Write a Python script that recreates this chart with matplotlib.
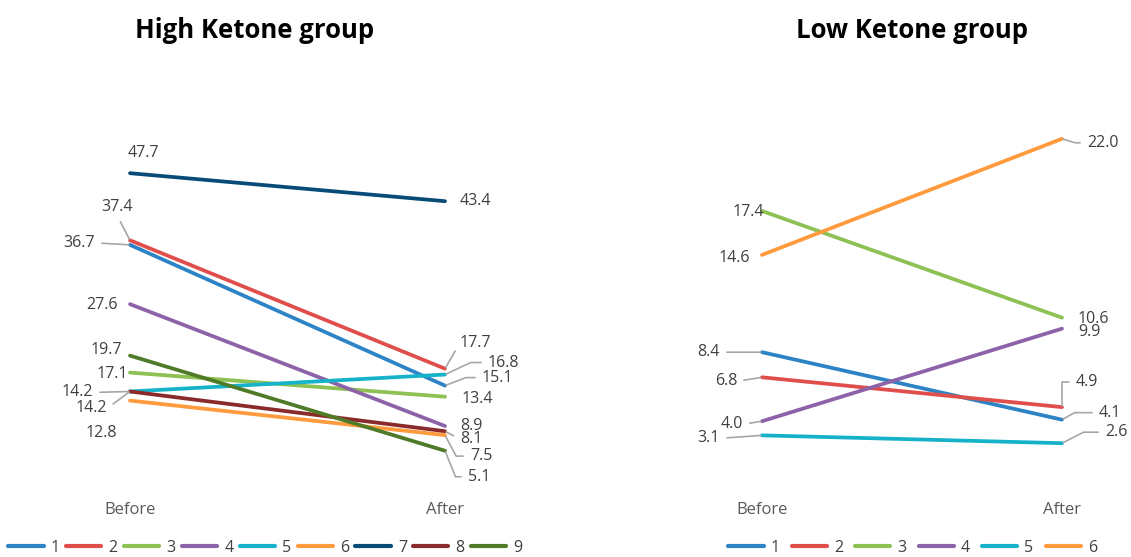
import matplotlib
matplotlib.use("Agg")
import matplotlib.pyplot as plt
from matplotlib.lines import Line2D

plt.rcParams['font.family'] = ['Open Sans', 'DejaVu Sans']

# data
categories = ['Before', 'After']

high_names = ['1', '2', '3', '4', '5', '6', '7', '8', '9']
high_before = [36.7, 37.4, 17.1, 27.6, 14.2, 12.8, 47.7, 14.2, 19.7]
high_after = [15.1, 17.7, 13.4, 8.9, 16.8, 7.5, 43.4, 8.1, 5.1]

low_names = ['1', '2', '3', '4', '5', '6']
low_before = [8.4, 6.8, 17.4, 4.0, 3.1, 14.6]
low_after = [4.1, 4.9, 10.6, 9.9, 2.6, 22.0]

colors = ['#2c83c5', '#e04e4b', '#8dc153', '#8c62a8', '#16b2c9',
          '#ff9a3d', '#084b77', '#8b2a2a', '#4f7a28']

TEXT = '#404040'
LEAD = '#a6a6a6'

# label layout: (dx px, dy px, ha, leader) ; leader None = no line,
# 's' = straight, number = elbow angle at the point
high_left_lbl = [(-35, 2, 'right', 's'), (-13, 33, 'center', 's'),
                 (-2, -1, 'right', None), (-12, -1, 'right', None),
                 (-37, -1, 'right', 's'), (-13, -32, 'right', None),
                 (-2, 20, 'left', None), (-23, -17, 'right', 's'),
                 (-8, 6, 'right', None)]
high_right_lbl = [(37, 8, 'left', 21), (15, 26, 'left', 's'),
                  (17, -2, 'left', None), (15, 0, 'left', None),
                  (43, 12, 'left', 25), (25, -21, 'left', -62),
                  (15, -8, 'left', None), (15, -8, 'left', 's'),
                  (23, -26, 'left', -68)]
high_right_lbl[6] = (15, 0, 'left', None)
low_left_lbl = [(-42, 0, 'right', 's'), (-25, -4, 'right', 's'),
                (2, -1, 'right', None), (-19, -3, 'right', 's'),
                (-42, -3, 'right', 's'), (-12, -3, 'right', None)]
low_right_lbl = [(37, 7, 'left', 29), (14, 25, 'left', 90),
                 (16, -1, 'left', None), (16, -3, 'left', None),
                 (43, 11, 'left', 27), (25, -4, 'left', -17)]

W, H = 1131, 557
fig = plt.figure(figsize=(W / 100, H / 100), dpi=100)


def add_label(ax, x, y, val, spec):
    dx, dy, ha, lead = spec
    kw = {}
    if lead is not None:
        rel = {'left': (0, 0.5), 'right': (1, 0.5), 'center': (0.5, 0)}[ha]
        if lead == 's':
            cs = 'arc3'
        else:
            cs = 'angle,angleA=0,angleB=%d,rad=0' % lead
        kw['arrowprops'] = dict(arrowstyle='-', color=LEAD, lw=1.2,
                                shrinkA=3, shrinkB=1, relpos=rel,
                                connectionstyle=cs)
    ax.annotate('%.1f' % val, xy=(x, y), xytext=(dx, dy),
                textcoords='offset pixels', ha=ha, va='center',
                fontsize=11.5, color=TEXT, annotation_clip=False, **kw)


def panel(x0, x1, ymax, before, after, lleft, lright):
    ax = fig.add_axes([x0 / W, (H - 484) / H, (x1 - x0) / W, 346 / H])
    for i in range(len(before)):
        ax.plot([0, 1], [before[i], after[i]], color=colors[i], lw=2.7,
                solid_capstyle='round', clip_on=False)
    for i in range(len(before)):
        add_label(ax, 0, before[i], before[i], lleft[i])
        add_label(ax, 1, after[i], after[i], lright[i])
    ax.set_xlim(0, 1)
    ax.set_ylim(0, ymax)
    ax.axis('off')
    for j, c in enumerate(categories):
        ax.annotate(c, xy=(j, 0), xytext=(0, -26), textcoords='offset pixels',
                    ha='center', va='center', fontsize=12, color='#595959',
                    annotation_clip=False)
    return ax


panel(130, 445, 53.1, high_before, high_after, high_left_lbl, high_right_lbl)
panel(762, 1062, 22.05, low_before, low_after, low_left_lbl, low_right_lbl)

fig.text(255 / W, 1 - 31 / H, 'High Ketone group', ha='center', va='center',
         fontsize=18.5, fontweight='bold', color='black')
fig.text(912 / W, 1 - 31 / H, 'Low Ketone group', ha='center', va='center',
         fontsize=18.5, fontweight='bold', color='black')

hi_handles = [Line2D([], [], color=colors[i], lw=3, solid_capstyle='round')
              for i in range(len(high_names))]
lo_handles = [Line2D([], [], color=colors[i], lw=3, solid_capstyle='round')
              for i in range(len(low_names))]
fig.legend(hi_handles, high_names, loc='center left',
           bbox_to_anchor=(2 / W, 1 - 548 / H), ncol=9, frameon=False,
           fontsize=11.5, handlelength=2.2, handletextpad=0.45,
           columnspacing=0.4, labelcolor=TEXT, borderaxespad=0)
fig.legend(lo_handles, low_names, loc='center left',
           bbox_to_anchor=(722 / W, 1 - 548 / H), ncol=6, frameon=False,
           fontsize=11.5, handlelength=2.2, handletextpad=0.45,
           columnspacing=0.75, labelcolor=TEXT, borderaxespad=0)

fig.savefig('out.png', dpi=100)
